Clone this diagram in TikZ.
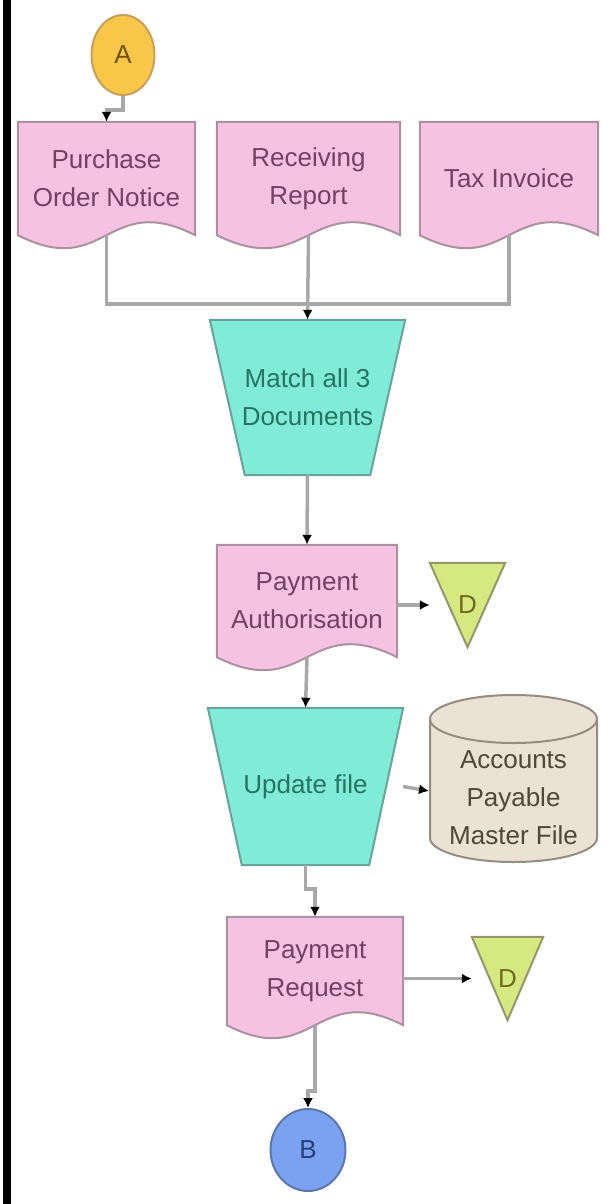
\documentclass[tikz,border=0pt]{standalone}
\usepackage{fontspec}
\setmainfont{Liberation Sans}
\usetikzlibrary{shapes.geometric, arrows.meta, calc, backgrounds}

\definecolor{docfill}{RGB}{245,194,225}
\definecolor{docedge}{RGB}{170,146,160}
\definecolor{doctext}{RGB}{116,64,100}
\definecolor{procfill}{RGB}{128,236,216}
\definecolor{procedge}{RGB}{104,164,154}
\definecolor{proctext}{RGB}{38,116,98}
\definecolor{trifill}{RGB}{214,232,128}
\definecolor{triedge}{RGB}{150,150,108}
\definecolor{tritext}{RGB}{108,110,30}
\definecolor{filefill}{RGB}{234,226,212}
\definecolor{fileedge}{RGB}{150,140,128}
\definecolor{filetext}{RGB}{80,70,60}
\definecolor{conAfill}{RGB}{248,198,72}
\definecolor{conAedge}{RGB}{200,160,90}
\definecolor{conAtext}{RGB}{112,82,22}
\definecolor{conBfill}{RGB}{122,162,240}
\definecolor{conBedge}{RGB}{92,120,170}
\definecolor{conBtext}{RGB}{40,62,122}
\definecolor{linegray}{RGB}{168,168,168}

% document with a wavy bottom, drawn round a node
\newcommand{\drawdoc}[1]{%
  \draw[docshape] (#1.north west) -- (#1.north east) -- (#1.south east)
    .. controls ($(#1.south)+(0,-45)$) and ($(#1.south)+(0,45)$) .. (#1.south west) -- cycle;}
% manual operation, wide side on top
\newcommand{\drawtrap}[2]{%
  \draw[procshape] (#1.north west) -- (#1.north east) -- ($(#1.south east)+(-#2,0)$)
    -- ($(#1.south west)+(#2,0)$) -- cycle;}
% off-page store, point down
\newcommand{\drawtri}[1]{%
  \draw[trishape] (#1.north west) -- (#1.north east) -- (#1.south) -- cycle;}

\begin{document}
\begin{tikzpicture}[x=1pt, y=-1pt,
    every node/.style={font=\fontsize{26}{38}\selectfont, align=center, inner sep=0pt},
    docbox/.style={rectangle, text=doctext},
    procbox/.style={rectangle, text=proctext},
    storebox/.style={rectangle, text=tritext},
    filebox/.style={cylinder, shape border rotate=90, aspect=0.3, draw=fileedge, line width=2pt,
        fill=filefill, text=filetext, minimum width=167, minimum height=167, anchor=shape center},
    connector/.style={ellipse, line width=2pt},
    docshape/.style={draw=docedge, fill=docfill, line width=2pt},
    procshape/.style={draw=procedge, fill=procfill, line width=2pt},
    trishape/.style={draw=triedge, fill=trifill, line width=2pt},
    link/.style={draw=linegray, line width=3.5pt},
    flow/.style={link, -{Latex[length=10pt, width=10pt, color=black]}}
]
\useasboundingbox (0,0) rectangle (606,1204);
\fill[black] (3,0) rectangle (11,1204);

% Коннекторы
\node[connector, draw=conAedge, fill=conAfill, text=conAtext, minimum width=63, minimum height=80] (A) at (123,55) {A};
\node[connector, draw=conBedge, fill=conBfill, text=conBtext, minimum width=75, minimum height=82] (B) at (308,1150) {B};

% Документы
\node[docbox, minimum width=177, minimum height=113] (po) at (106.5,178.5) {Purchase\\Order Notice};
\node[docbox, minimum width=183, minimum height=113] (rr) at (308.5,178.5) {Receiving\\Report};
\node[docbox, minimum width=178, minimum height=113] (ti) at (509,178.5) {Tax Invoice};
\node[docbox, minimum width=180, minimum height=112] (pa) at (307,601) {Payment\\Authorisation};
\node[docbox, minimum width=176, minimum height=108] (pr) at (315,971) {Payment\\Request};

% Ручные операции
\node[procbox, minimum width=195, minimum height=155] (mt) at (307.5,397.5) {Match all 3\\Documents};
\node[procbox, minimum width=195, minimum height=157] (upd) at (305.5,786.5) {Update file};

% Хранилища
\node[storebox, minimum width=75, minimum height=84] (d1) at (467.5,605) {D};
\node[storebox, minimum width=71, minimum height=83] (d2) at (507.5,978.5) {D};
\node[filebox] (apmf) at (513.5,778.5) {\raisebox{-13pt}[0pt][0pt]{\parbox{160pt}{\centering Accounts\\Payable\\Master File}}};

% Фигуры под текстом
\begin{scope}[on background layer]
\fill[white] (0,0) rectangle (606,1204);
\drawdoc{po} \drawdoc{rr} \drawdoc{ti} \drawdoc{pa} \drawdoc{pr}
\drawtrap{mt}{35} \drawtrap{upd}{34}
\drawtri{d1} \drawtri{d2}
\end{scope}

% Связи
\coordinate (join) at (308.5,304);
\draw[flow] (A.south) -- ++(0,14) -| (po.north);
\draw[link] (po.south) |- (join);
\draw[link] (ti.south) |- (join);
\draw[flow] (rr.south) -- (mt.north);
\draw[flow] (mt.south) -- (pa.north);
\draw[flow] (pa.east |- d1.west) -- (d1.west);
\draw[flow] (pa.south) -- (upd.north);
\draw[flow] (upd.east) -- (apmf.west);
\draw[flow] (upd.south) -- ++(0,24) -| (pr.north);
\draw[flow] (pr.east |- d2.west) -- (d2.west);
\draw[flow] (pr.south) -- ++(0,66) -| (B.north);
\end{tikzpicture}
\end{document}
